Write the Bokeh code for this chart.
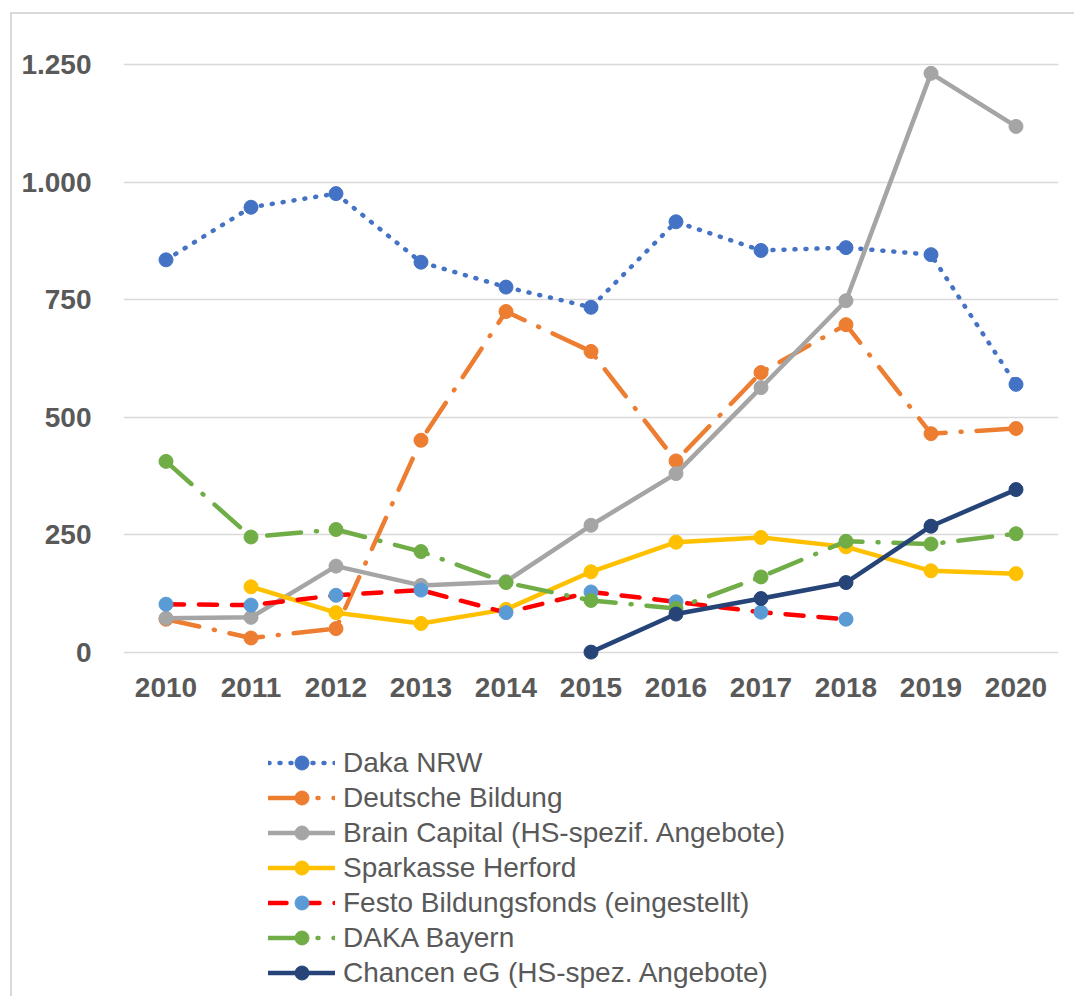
import numpy as np
from bokeh.plotting import figure
from bokeh.layouts import column
from bokeh.models import (Legend, LegendItem, FixedTicker, CustomJSTickFormatter,
                          Range1d, InlineStyleSheet)
from bokeh.embed import file_html
from bokeh.resources import INLINE

years = [2010, 2011, 2012, 2013, 2014, 2015, 2016, 2017, 2018, 2019, 2020]
daka_nrw = [835, 947, 976, 830, 777, 734, 916, 855, 861, 846, 570]
deutsche_bildung = [70, 30, 50, 451, 725, 640, 407, 595, 697, 465, 476]
brain_capital = [72, 74, 183, 142, 150, 270, 380, 563, 748, 1232, 1119]
sparkasse_herford = [None, 139, 84, 61, 91, 171, 234, 244, 224, 173, 167]
festo = [102, 100, 121, 132, 84, 128, 107, 85, 70, None, None]
daka_bayern = [406, 245, 261, 214, 148, 110, 93, 160, 236, 230, 252]
chancen = [None, None, None, None, None, 0, 81, 114, 148, 268, 346]

series_names = [
    "Daka NRW",
    "Deutsche Bildung",
    "Brain Capital (HS-spezif. Angebote)",
    "Sparkasse Herford",
    "Festo Bildungsfonds (eingestellt)",
    "DAKA Bayern",
    "Chancen eG (HS-spez. Angebote)",
]
y_ticks = [0, 250, 500, 750, 1000, 1250]

TXT = "#595959"
GRID = "#D9D9D9"

border_top = InlineStyleSheet(css="""
:host::after {
  content: ''; position: absolute;
  left: 10px; top: 12px; right: 0px; bottom: 0px;
  border-left: 2px solid #D9D9D9; border-top: 2px solid #D9D9D9;
  pointer-events: none;
}
""")
border_bottom = InlineStyleSheet(css="""
:host::after {
  content: ''; position: absolute;
  left: 10px; top: 0px; right: 0px; bottom: 0px;
  border-left: 2px solid #D9D9D9;
  pointer-events: none;
}
""")

# ---------- chart ----------
p = figure(width=1074, height=731, output_backend="svg", toolbar_location=None,
           x_range=Range1d(2009.5, 2020.5), y_range=Range1d(-20, 1270),
           min_border_left=123, min_border_right=16, min_border_top=55,
           min_border_bottom=70)
p.stylesheets = [border_top]
p.outline_line_color = None
p.xgrid.grid_line_color = None
p.ygrid.grid_line_color = GRID
p.ygrid.grid_line_width = 1.5

for ax in (p.xaxis[0], p.yaxis[0]):
    ax.axis_line_color = None
    ax.major_tick_line_color = None
    ax.minor_tick_line_color = None
    ax.major_label_text_font = "Liberation Sans"
    ax.major_label_text_font_style = "bold"
    ax.major_label_text_font_size = "28px"
    ax.major_label_text_color = TXT

p.xaxis.ticker = FixedTicker(ticks=years)
p.xaxis.major_label_standoff = 10
p.yaxis.ticker = FixedTicker(ticks=y_ticks)
p.yaxis.major_label_standoff = 26
p.yaxis.formatter = CustomJSTickFormatter(code="""
    const t = Math.round(tick);
    if (t >= 1000) { return Math.floor(t/1000) + '.' + String(t % 1000).padStart(3, '0'); }
    return String(t);
""")

def arr(v):
    return np.array([np.nan if x is None else x for x in v], dtype=float)

styles = [
    (daka_nrw, "#4472C4", "#4472C4", "1 10"),
    (deutsche_bildung, "#ED7D31", "#ED7D31", "34 15 1 15"),
    (brain_capital, "#A5A5A5", "#A5A5A5", "solid"),
    (sparkasse_herford, "#FFC000", "#FFC000", "solid"),
    (festo, "#FF0000", "#5B9BD5", "18 15"),
    (daka_bayern, "#70AD47", "#70AD47", "34 15 1 15"),
    (chancen, "#264478", "#264478", "solid"),
]

def draw(fig, vals, lc, mc, dash):
    y = arr(vals)
    ln = fig.line(years, y, line_color=lc, line_width=4.5, line_dash=dash,
                  line_cap="round", line_join="round")
    sc = fig.scatter(years, y, size=14, fill_color=mc, line_color=mc)
    return ln, sc

for vals, lc, mc, dash in styles:
    draw(p, vals, lc, mc, dash)

# ---------- legend panel (same series, out of view, only for the legend) ----------
q = figure(width=1074, height=265, output_backend="svg", toolbar_location=None,
           x_range=Range1d(0, 1), y_range=Range1d(0, 1),
           x_axis_location=None, y_axis_location=None,
           min_border_left=0, min_border_right=0, min_border_top=0,
           min_border_bottom=0)
q.stylesheets = [border_bottom]
q.outline_line_color = None
q.xgrid.grid_line_color = None
q.ygrid.grid_line_color = None

items = []
for name, (vals, lc, mc, dash) in zip(series_names, styles):
    ln, sc = draw(q, vals, lc, mc, dash)
    items.append(LegendItem(label=name, renderers=[ln, sc]))

legend = Legend(items=items, location=(145, 6), orientation="vertical",
                glyph_width=67, glyph_height=35, label_height=35, spacing=0,
                padding=0, margin=0, label_standoff=8,
                label_text_font="Liberation Sans", label_text_font_size="28px",
                label_text_color=TXT, border_line_color=None,
                background_fill_alpha=0)
q.add_layout(legend, "center")

layout = column(p, q, spacing=0)
open("out.html", "w").write(file_html(layout, INLINE))
